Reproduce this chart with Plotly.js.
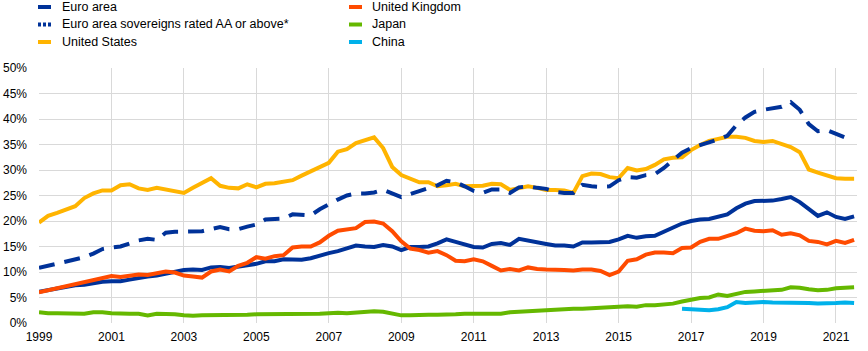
<!DOCTYPE html>
<html>
<head>
<meta charset="utf-8">
<script src="https://cdn.plot.ly/plotly-3.0.1.min.js"></script>
<style>
html,body{margin:0;padding:0;background:#fff;}
#chart{width:868px;height:351px;}
</style>
</head>
<body>
<div id="chart"></div>
<script>
// Quarterly observations, 1999 Q1 onwards (shares of world total, %)
const startYear = 1999;
const euroArea = [
  6.1, 6.4, 6.7, 7.1,  7.4, 7.5, 7.8, 8.1,  8.2, 8.2, 8.5, 8.9,  9.1, 9.3, 9.7, 10.1,
  10.4, 10.5, 10.4, 10.9,  11.0, 10.8, 11.1, 11.3,  11.6, 12.1, 12.1, 12.5,  12.5, 12.4, 12.7, 13.3,
  13.7, 14.1, 14.6, 15.2,  15.0, 14.9, 15.3, 15.0,  14.3, 14.9, 14.9, 15.0,  15.6, 16.4, 15.9, 15.3,
  14.9, 14.8, 15.5, 15.7,  15.3, 16.5, 16.1, 15.9,  15.5, 15.2, 15.2, 15.0,  15.8, 15.8, 15.8, 15.9,
  16.4, 17.1, 16.7, 17.0,  17.1, 17.9, 18.7, 19.5,  20.0, 20.3, 20.4, 20.9,  21.3, 22.5, 23.4, 23.9,
  23.9, 24.0, 24.3, 24.7,  23.7, 22.4, 21.0, 21.7,  20.8, 20.4, 20.9
];
const euroAreaAA = [
  10.8, 11.2, 11.6, 12.2,  12.5, 12.9, 13.6, 14.5,  14.8, 15.0, 15.6, 16.2,  16.5, 16.3, 17.7, 17.9,
  17.9, 17.9, 18.0, 18.4,  18.8, 18.4, 18.4, 18.9,  19.3, 20.3, 20.4, 20.5,  21.3, 21.2, 21.1, 22.3,
  23.3, 24.2, 25.0, 25.4,  25.4, 25.6, 26.1, 25.3,  24.7, 25.3, 25.8, 26.3,  27.0, 27.9, 27.6, 26.8,
  25.9, 25.5, 26.2, 26.2,  25.5, 26.6, 26.8, 26.5,  26.3, 25.7, 25.5, 25.5,  27.1, 26.8, 26.7, 26.8,
  28.0, 28.6, 28.5, 29.0,  29.2, 30.4, 31.8, 33.4,  34.3, 34.8, 35.4, 36.0,  36.7, 38.8, 40.3, 41.4,
  41.8, 42.1, 42.4, 43.3,  41.8, 39.0, 37.6, 37.8,  37.0, 36.4
];
const unitedStates = [
  19.7, 21.0, 21.6, 22.3,  22.9, 24.5, 25.4, 26.0,  26.0, 27.0, 27.2, 26.4,  26.1, 26.5, 26.2, 25.8,
  25.5, 26.5, 27.5, 28.4,  26.9, 26.5, 26.4, 27.2,  26.6, 27.3, 27.4, 27.8,  28.0, 28.9, 29.7, 30.6,
  31.4, 33.6, 34.1, 35.3,  35.9, 36.4, 34.3, 30.6,  29.0, 28.2, 27.6, 27.6,  26.8, 27.0, 27.3, 26.8,
  26.8, 26.9, 27.3, 27.2,  26.1, 26.5, 26.8, 26.5,  26.1, 26.1, 26.0, 25.5,  28.8, 29.3, 29.2, 28.6,
  28.4, 30.4, 29.9, 30.2,  31.0, 32.1, 32.4, 32.5,  33.9, 34.9, 35.7, 36.1,  36.5, 36.5, 36.3, 35.7,
  35.5, 35.7, 35.0, 34.5,  33.5, 30.1, 29.5, 28.9,  28.4, 28.3, 28.3
];
const unitedKingdom = [
  6.0, 6.4, 6.8, 7.3,  7.8, 8.0, 8.4, 8.8,  9.2, 9.0, 9.2, 9.5,  9.4, 9.8, 10.1, 9.9,
  9.3, 9.1, 8.9, 10.1,  10.5, 10.1, 11.2, 11.8,  12.9, 12.6, 13.1, 13.3,  14.8, 15.0, 15.0, 15.8,
  17.1, 18.1, 18.3, 18.6,  19.8, 19.9, 19.5, 18.0,  16.0, 14.6, 14.3, 13.8,  14.1, 13.3, 12.2, 12.1,
  12.5, 12.1, 11.2, 10.3,  10.6, 10.3, 10.9, 10.6,  10.5, 10.5, 10.4, 10.3,  10.5, 10.5, 10.2, 9.4,
  10.1, 12.2, 12.5, 13.4,  13.8, 13.8, 13.7, 14.7,  14.8, 15.9, 16.5, 16.5,  17.0, 17.6, 18.5, 18.1,
  18.0, 18.2, 17.3, 17.6,  17.2, 16.1, 15.9, 15.4,  16.1, 15.7, 16.3
];
const japan = [
  2.1, 1.9, 1.9, 1.9,  1.9, 1.8, 2.1, 2.1,  1.9, 1.8, 1.8, 1.8,  1.5, 1.8, 1.8, 1.7,
  1.5, 1.4, 1.5, 1.5,  1.6, 1.6, 1.6, 1.6,  1.7, 1.7, 1.7, 1.8,  1.8, 1.8, 1.7, 1.8,
  1.9, 2.0, 1.9, 2.0,  2.1, 2.3, 2.2, 1.9,  1.5, 1.5, 1.6, 1.6,  1.6, 1.6, 1.7, 1.8,
  1.8, 1.9, 1.8, 1.8,  2.1, 2.2, 2.3, 2.5,  2.6, 2.7, 2.7, 2.8,  2.8, 2.9, 3.0, 3.1,
  3.3, 3.3, 3.2, 3.5,  3.5, 3.6, 3.8, 4.2,  4.6, 4.9, 5.0, 5.6,  5.3, 5.8, 6.1, 6.2,
  6.3, 6.4, 6.5, 7.0,  6.9, 6.6, 6.4, 6.5,  6.8, 6.9, 7.0
];
// China: from 2016 Q4
const chinaStart = 2016.75;
const china = [
  2.8, 2.7, 2.5, 2.5, 2.7, 3.1, 4.1, 3.9, 4.0, 4.1,
  4.0, 4.0, 3.9, 3.9, 3.9, 3.8, 3.8, 3.9, 4.0, 3.9
];
const tickYears = [1999, 2001, 2003, 2005, 2007, 2009, 2011, 2013, 2015, 2017, 2019, 2021];
const yTicks = [0, 5, 10, 15, 20, 25, 30, 35, 40, 45, 50];

const names = {
  ea: 'Euro area', aa: 'Euro area sovereigns rated AA or above*', us: 'United States',
  uk: 'United Kingdom', jp: 'Japan', cn: 'China'
};
const colors = { ea: '#003299', aa: '#003299', us: '#FFB400', uk: '#FF4B00', jp: '#65B800', cn: '#00B1EA' };

function quarters(start, n) { const a = []; for (let i = 0; i < n; i++) a.push(start + i * 0.25); return a; }

function tr(key, vals, start, dash) {
  return {
    type: 'scatter', mode: 'lines', name: names[key],
    x: quarters(start, vals.length), y: vals,
    line: { color: colors[key], width: 4, dash: dash || 'solid', shape: 'linear' },
    showlegend: false, hoverinfo: 'x+y'
  };
}

const data = [
  tr('ea', euroArea, startYear),
  tr('uk', unitedKingdom, startYear),
  tr('jp', japan, startYear),
  tr('cn', china, chinaStart),
  tr('us', unitedStates, startYear),
  tr('aa', euroAreaAA, startYear, '16px,10px')
];

// Layout geometry
const W = 868, H = 351, ML = 39, MR = 11, MT = 68, MB = 28;
const PW = W - ML - MR, PH = H - MT - MB;
const px = v => (v - ML) / PW;
const py = v => (H - MB - v) / PH;

const legendItems = [
  { key: 'ea', col: 0, row: 0 }, { key: 'aa', col: 0, row: 1 }, { key: 'us', col: 0, row: 2 },
  { key: 'uk', col: 1, row: 0 }, { key: 'jp', col: 1, row: 1 }, { key: 'cn', col: 1, row: 2 }
];
const colSym = [38, 349], colText = [60, 370], rowY = [7, 24.5, 42];
const shapes = [], annotations = [];
legendItems.forEach(it => {
  const y = py(rowY[it.row]);
  shapes.push({
    type: 'line', xref: 'paper', yref: 'paper',
    x0: px(colSym[it.col]), x1: px(colSym[it.col] + 13), y0: y, y1: y,
    line: { color: colors[it.key], width: 4, dash: it.key === 'aa' ? '3px,2px' : 'solid' }
  });
  annotations.push({
    xref: 'paper', yref: 'paper', x: px(colText[it.col]), y: y,
    xanchor: 'left', yanchor: 'middle', showarrow: false, text: names[it.key],
    font: { family: 'Liberation Sans, Arial, sans-serif', size: 12.5, color: '#000' }
  });
});

const layout = {
  width: W, height: H,
  margin: { l: ML, r: MR, t: MT, b: MB, pad: 0 },
  paper_bgcolor: '#fff', plot_bgcolor: '#fff',
  font: { family: 'Liberation Sans, Arial, sans-serif', size: 12, color: '#000' },
  showlegend: false,
  xaxis: {
    type: 'linear', range: [1999, 2021.58], tickmode: 'array',
    tickvals: tickYears, ticktext: tickYears.map(String),
    showgrid: true, gridcolor: '#d9d9d9', gridwidth: 1,
    zeroline: false, showline: false, ticks: '', ticklabelstandoff: 5,
    tickfont: { size: 12 }, fixedrange: true
  },
  yaxis: {
    range: [0, 50], tickmode: 'array', tickvals: yTicks, ticktext: yTicks.map(v => v + '%'),
    showgrid: true, gridcolor: '#d9d9d9', gridwidth: 1,
    zeroline: false, showline: false, ticks: '', ticklabelstandoff: 11,
    tickfont: { size: 12 }, fixedrange: true
  },
  shapes: shapes,
  annotations: annotations
};

Plotly.newPlot('chart', data, layout, { displayModeBar: false, staticPlot: true });
</script>
</body>
</html>
